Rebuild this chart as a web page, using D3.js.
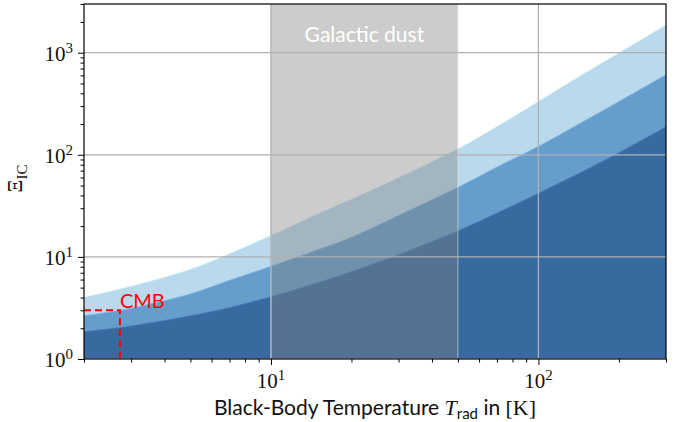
<!DOCTYPE html>
<html>
<head>
<meta charset="utf-8">
<script src="https://cdn.jsdelivr.net/npm/d3@7"></script>
<style>
  body { margin: 0; background: #fff; }
  svg { display: block; }
  .tick-label { font-family: "Liberation Serif", "DejaVu Serif", serif; font-size: 21px; fill: #111; }
  .sans { font-family: Lato, "DejaVu Sans", sans-serif; }
</style>
</head>
<body>
<svg id="chart"></svg>
<script>
// temperatures (K) where the curves were read
const temps = [2, 3, 5, 7, 10, 15, 20, 30, 50, 70, 100, 150, 200, 300];
// Xi_IC upper edge of each band
const xiLow  = [1.85, 2.11, 2.65, 3.19, 4.08, 5.6, 7.2, 10.5, 18.0, 26.9, 42, 71, 105, 188];
const xiMid  = [2.65, 3.14, 4.35, 5.9, 8.1, 11.8, 15.6, 25.5, 48, 76, 121, 218, 333, 610];
const xiHigh = [4.05, 5.2, 7.6, 10.8, 16.3, 26.6, 37, 60, 115, 190, 335, 640, 1000, 1880];
const bandColors = ['#bad9ec', '#669dca', '#386aa0'];

const xDomain = [2, 300];
const yDomain = [1, 3000];
const xTicks = [10, 100];
const yTicks = [1, 10, 100, 1000];

const dustRange = [10, 50];
const dustLabel = 'Galactic dust';
const cmbT = 2.725;
const cmbXi = 3;

class XiPlot {
  constructor(_config) {
    this.config = {
      parentElement: _config.parentElement,
      containerWidth: _config.containerWidth || 685,
      containerHeight: _config.containerHeight || 422,
      margin: _config.margin || {top: 4, right: 19, bottom: 63, left: 84}
    };
    this.initVis();
  }

  initVis() {
    const c = this.config;
    this.width = c.containerWidth - c.margin.left - c.margin.right;
    this.height = c.containerHeight - c.margin.top - c.margin.bottom;

    this.xScale = d3.scaleLog().domain(xDomain).range([0, this.width]);
    this.yScale = d3.scaleLog().domain(yDomain).range([this.height, 0]);

    this.svg = d3.select(c.parentElement)
        .attr('width', c.containerWidth)
        .attr('height', c.containerHeight);

    this.chart = this.svg.append('g')
        .attr('transform', `translate(${c.margin.left},${c.margin.top})`);

    this.chart.append('clipPath').attr('id', 'clip')
      .append('rect').attr('width', this.width).attr('height', this.height);

    this.plotG = this.chart.append('g').attr('clip-path', 'url(#clip)');
  }

  updateVis() {
    const x = this.xScale, y = this.yScale, h = this.height, w = this.width;

    // stacked bands, drawn from the top one down so each covers the one above
    const series = [xiHigh, xiMid, xiLow];
    series.forEach((vals, i) => {
      const pts = temps.map((t, j) => ({t, v: vals[j]}));
      const area = d3.area()
          .x(d => x(d.t))
          .y0(h)
          .y1(d => y(d.v))
          .curve(d3.curveCatmullRom);
      const line = d3.line()
          .x(d => x(d.t))
          .y(d => y(d.v))
          .curve(d3.curveCatmullRom);
      this.plotG.append('path')
          .datum(pts)
          .attr('d', area)
          .attr('fill', bandColors[i]);
      this.plotG.append('path')
          .datum(pts)
          .attr('d', line)
          .attr('fill', 'none')
          .attr('stroke', d3.color(bandColors[i]).brighter(0.5))
          .attr('stroke-opacity', 0.8)
          .attr('stroke-width', 1);
    });

    // galactic dust span
    this.plotG.append('rect')
        .attr('x', x(dustRange[0]))
        .attr('width', x(dustRange[1]) - x(dustRange[0]))
        .attr('y', 0)
        .attr('height', h)
        .attr('fill', '#808080')
        .attr('fill-opacity', 0.4)
        .attr('stroke', '#e6e6e6')
        .attr('stroke-opacity', 0.6)
        .attr('stroke-width', 1);

    this.plotG.append('text')
        .attr('class', 'sans')
        .attr('x', (x(dustRange[0]) + x(dustRange[1])) / 2)
        .attr('y', 38)
        .attr('text-anchor', 'middle')
        .attr('fill', '#fff')
        .style('font-size', '21px')
        .text(dustLabel);

    // grid on top
    const grid = this.plotG.append('g');
    xTicks.forEach(t => {
      grid.append('line')
          .attr('x1', x(t)).attr('x2', x(t)).attr('y1', 0).attr('y2', h)
          .attr('stroke', '#b0b0b0').attr('stroke-width', 1.3);
    });
    yTicks.forEach(t => {
      grid.append('line')
          .attr('x1', 0).attr('x2', w).attr('y1', y(t)).attr('y2', y(t))
          .attr('stroke', '#b0b0b0').attr('stroke-width', 1.3);
    });

    // CMB marker
    this.plotG.append('path')
        .attr('d', `M0,${y(cmbXi)}H${x(cmbT)}V${h}`)
        .attr('fill', 'none')
        .attr('stroke', 'red')
        .attr('stroke-width', 2)
        .attr('stroke-dasharray', '7,4');
    this.plotG.append('text')
        .attr('class', 'sans')
        .attr('x', x(cmbT))
        .attr('y', y(cmbXi) - 2)
        .attr('fill', 'red')
        .style('font-size', '20px')
        .text('CMB');

    // frame
    this.chart.append('rect')
        .attr('width', w).attr('height', h)
        .attr('fill', 'none')
        .attr('stroke', '#000')
        .attr('stroke-width', 1.2);

    // axes: major ticks labelled, minor ticks unlabelled
    const minorX = [];
    const minorY = [];
    for (let p = 0; p <= 3; p++) {
      for (let m = 2; m <= 9; m++) {
        const v = m * Math.pow(10, p);
        if (v >= xDomain[0] && v <= xDomain[1]) minorX.push(v);
        if (v >= yDomain[0] && v <= yDomain[1]) minorY.push(v);
      }
    }

    const xAxisG = this.chart.append('g').attr('transform', `translate(0,${h})`);
    xAxisG.call(d3.axisBottom(x).tickValues(minorX).tickSize(3.5).tickFormat(''));
    xAxisG.append('g').call(d3.axisBottom(x).tickValues(xTicks).tickSize(6).tickFormat(''));
    const yAxisG = this.chart.append('g');
    yAxisG.call(d3.axisLeft(y).tickValues(minorY).tickSize(3.5).tickFormat(''));
    yAxisG.append('g').call(d3.axisLeft(y).tickValues(yTicks).tickSize(6).tickFormat(''));
    this.chart.selectAll('.domain').remove();
    this.chart.selectAll('.tick line').attr('stroke', '#000').attr('stroke-width', 1);

    // power-of-ten labels
    const pow10 = (sel, v) => {
      sel.append('tspan').text('10');
      sel.append('tspan')
          .attr('dy', -8)
          .style('font-size', '15px')
          .text(Math.round(Math.log10(v)));
    };
    xTicks.forEach(t => {
      const lab = this.chart.append('text')
          .attr('class', 'tick-label')
          .attr('x', x(t))
          .attr('y', h + 29)
          .attr('text-anchor', 'middle');
      pow10(lab, t);
    });
    yTicks.forEach(t => {
      const lab = this.chart.append('text')
          .attr('class', 'tick-label')
          .attr('x', -11)
          .attr('y', y(t) + 8)
          .attr('text-anchor', 'end');
      pow10(lab, t);
    });

    // axis titles
    const xt = this.chart.append('text')
        .attr('class', 'sans')
        .attr('x', w / 2)
        .attr('y', h + 56)
        .attr('text-anchor', 'middle')
        .style('font-size', '21px')
        .attr('fill', '#111');
    xt.append('tspan').text('Black-Body Temperature ');
    xt.append('tspan').attr('font-family', 'Liberation Serif, serif').attr('font-style', 'italic').style('font-size', '22px').text('T');
    xt.append('tspan').attr('dy', 4).style('font-size', '15px').text('rad');
    xt.append('tspan').attr('dy', -4).text(' in ');
    xt.append('tspan').attr('font-family', 'Liberation Serif, serif').style('font-size', '22px').text('[K]');

    const yt = this.svg.append('text')
        .attr('class', 'tick-label')
        .attr('transform', `translate(22,${this.config.margin.top + h / 2 - 3}) rotate(-90)`)
        .attr('text-anchor', 'middle')
        .style('font-size', '20px');
    yt.append('tspan').text('\u039E');
    yt.append('tspan').attr('dy', 5).style('font-size', '15px').text('IC');
  }
}

const plot = new XiPlot({parentElement: '#chart'});
plot.updateVis();
</script>
</body>
</html>
